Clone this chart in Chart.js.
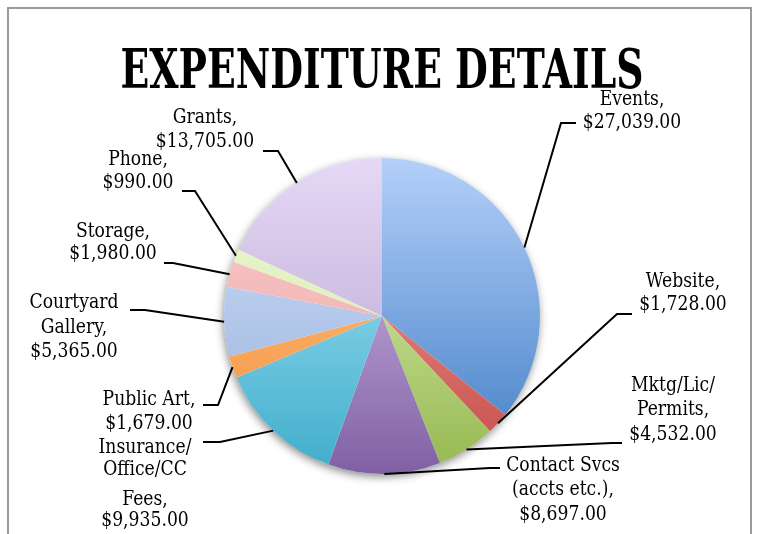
<!DOCTYPE html>
<html>
<head>
<meta charset="utf-8">
<script src="https://cdn.jsdelivr.net/npm/chart.js@4.4.1/dist/chart.umd.min.js"></script>
<style>
  html, body { margin: 0; padding: 0; background: #fff; }
  #wrap { width: 760px; height: 534px; }
</style>
</head>
<body>
<div id="wrap"><canvas id="myChart" width="760" height="534"></canvas></div>
<script>
// data
const categories = ['Events', 'Website', 'Mktg/Lic/Permits', 'Contact Svcs (accts etc.)', 'Insurance/Office/CC Fees',
  'Public Art', 'Courtyard Gallery', 'Storage', 'Phone', 'Grants'];
const amounts = [27039, 1728, 4532, 8697, 9935, 1679, 5365, 1980, 990, 13705];
// how each category name wraps in its label
const nameLines = [['Events,'], ['Website,'], ['Mktg/Lic/', 'Permits,'], ['Contact Svcs', '(accts etc.),'],
  ['Insurance/', 'Office/CC', 'Fees,'], ['Public Art,'], ['Courtyard', 'Gallery,'], ['Storage,'], ['Phone,'], ['Grants,']];

// gradient colours, top of pie -> bottom of pie
const topColors = ['#b4d0fa', '#f6aaa6', '#e6f6c0', '#dccaf0', '#b0ecfc', '#ffcc90', '#d2e4fc', '#fcd0d0', '#eef8d4', '#e6d8f6'];
const bottomColors = ['#3f7cc4', '#c44a46', '#96b850', '#8060a4', '#40acca', '#f48c38', '#94acd8', '#e8a0a0', '#d0e8a8', '#b0a0cc'];

// label placement (text centre x, line centres y, leader attach + elbow)
const labelPos = [
  { cx: 632, ys: [100, 123], attach: [576, 123], elbow: [561, 123] },
  { cx: 683, ys: [282, 305], attach: [632, 314], elbow: [617, 314] },
  { cx: 673, ys: [386, 410, 435], attach: [622, 443], elbow: [612, 443] },
  { cx: 563, ys: [466, 490, 515], attach: [500, 468], elbow: [490, 468] },
  { cx: 145, ys: [448, 470, 500, 521], attach: [203, 442], elbow: [220, 442] },
  { cx: 149, ys: [400, 424], attach: [203, 405], elbow: [218, 405] },
  { cx: 74, ys: [303, 328, 352], attach: [130, 310], elbow: [145, 310] },
  { cx: 113, ys: [232, 254], attach: [164, 263], elbow: [173, 263] },
  { cx: 138, ys: [160, 183], attach: [182, 191], elbow: [195, 191] },
  { cx: 205, ys: [118, 142], attach: [263, 151], elbow: [278, 151] }
];

function money(v) {
  return '$' + v.toLocaleString('en-US', { minimumFractionDigits: 2, maximumFractionDigits: 2 });
}

function drawText(ctx, txt, x, y, font, sx) {
  ctx.save();
  ctx.translate(x, y);
  ctx.scale(sx, 1);
  ctx.font = font;
  ctx.fillText(txt, 0, 0);
  ctx.restore();
}

const framePlugin = {
  id: 'frame',
  beforeDraw(chart) {
    const ctx = chart.ctx;
    ctx.save();
    ctx.fillStyle = '#fff';
    ctx.fillRect(0, 0, chart.width, chart.height);
    ctx.strokeStyle = '#9a9a9a';
    ctx.lineWidth = 2;
    ctx.strokeRect(8, 8, 743, 560);
    // title
    ctx.fillStyle = '#000';
    ctx.textAlign = 'center';
    ctx.textBaseline = 'alphabetic';
    const tf = 'bold 55px "DejaVu Serif"';
    ctx.font = tf;
    const w = ctx.measureText('EXPENDITURE DETAILS').width;
    drawText(ctx, 'EXPENDITURE DETAILS', 382, 88, tf, 523 / w);
    ctx.restore();
  },
  beforeDatasetsDraw(chart) {
    const arc = chart.getDatasetMeta(0).data[0];
    if (!arc) return;
    const ctx = chart.ctx;
    ctx.save();
    ctx.shadowColor = 'rgba(0,0,0,0.45)';
    ctx.shadowBlur = 9;
    ctx.shadowOffsetX = -1;
    ctx.shadowOffsetY = 3;
    ctx.fillStyle = '#fff';
    ctx.beginPath();
    ctx.arc(arc.x, arc.y, arc.outerRadius, 0, Math.PI * 2);
    ctx.fill();
    ctx.restore();
  },
  afterDatasetsDraw(chart) {
    const ctx = chart.ctx;
    const meta = chart.getDatasetMeta(0);
    ctx.save();
    ctx.strokeStyle = '#000';
    ctx.lineWidth = 2;
    ctx.fillStyle = '#000';
    ctx.textAlign = 'center';
    ctx.textBaseline = 'middle';
    meta.data.forEach((a, i) => {
      const p = labelPos[i];
      const mid = (a.startAngle + a.endAngle) / 2;
      const ex = a.x + Math.cos(mid) * a.outerRadius;
      const ey = a.y + Math.sin(mid) * a.outerRadius;
      ctx.beginPath();
      ctx.moveTo(p.attach[0], p.attach[1]);
      ctx.lineTo(p.elbow[0], p.elbow[1]);
      ctx.lineTo(ex, ey);
      ctx.stroke();
      const lines = nameLines[i].concat([money(amounts[i])]);
      lines.forEach((t, k) => drawText(ctx, t, p.cx, p.ys[k], '20px "DejaVu Serif"', 0.86));
    });
    ctx.restore();
  }
};

const ctx = document.getElementById('myChart').getContext('2d');
const myChart = new Chart(ctx, {
  type: 'pie',
  data: {
    labels: categories,
    datasets: [{
      data: amounts,
      backgroundColor: (c) => {
        const area = c.chart.chartArea;
        if (!area) return topColors[c.dataIndex];
        const g = c.chart.ctx.createLinearGradient(0, area.top, 0, area.bottom);
        g.addColorStop(0, topColors[c.dataIndex]);
        g.addColorStop(1, bottomColors[c.dataIndex]);
        return g;
      },
      borderWidth: 0
    }]
  },
  options: {
    responsive: false,
    animation: false,
    layout: { padding: { top: 158, bottom: 60, left: 100, right: 96 } },
    plugins: {
      legend: { display: false },
      tooltip: { enabled: false }
    }
  },
  plugins: [framePlugin]
});
</script>
</body>
</html>
